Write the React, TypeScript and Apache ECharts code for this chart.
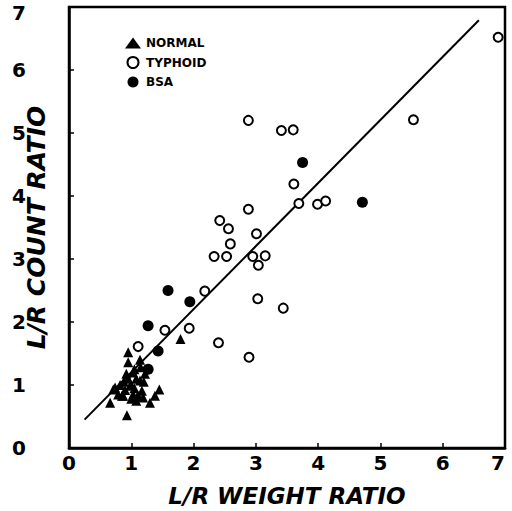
import React, { useEffect, useRef } from "react";
import * as echarts from "echarts";

const xTickLabels = ["0", "1", "2", "3", "4", "5", "6", "7"];
const yTickLabels = ["0", "1", "2", "3", "4", "5", "6", "7"];

const normal: number[][] = [
  [0.66, 0.72], [0.74, 0.96], [0.85, 0.83], [0.93, 0.52], [0.95, 1.52],
  [0.95, 1.36], [1.14, 1.4], [1.79, 1.73], [1.45, 0.93], [1.38, 0.83],
  [1.3, 0.72], [0.79, 0.85], [0.71, 0.93], [0.82, 1.0], [0.88, 1.05],
  [0.9, 0.92], [0.95, 1.1], [0.98, 0.99], [1.0, 1.0], [1.03, 1.2],
  [1.05, 0.95], [1.05, 1.25], [1.08, 1.1], [1.1, 0.82], [1.14, 1.07],
  [1.17, 0.91], [1.2, 1.05], [1.0, 0.78], [1.08, 0.75], [1.15, 1.28],
  [0.92, 1.18], [1.22, 1.18], [1.03, 0.85], [1.11, 0.83], [1.19, 0.8],
  [0.87, 0.83],
];

const typhoid: number[][] = [
  [2.88, 5.2], [3.41, 5.04], [3.6, 5.05], [3.61, 4.19], [3.69, 3.88],
  [3.99, 3.87], [4.12, 3.92], [2.88, 3.79], [2.42, 3.61], [2.56, 3.48],
  [3.01, 3.4], [2.59, 3.24], [2.33, 3.04], [2.53, 3.04], [2.95, 3.04],
  [3.15, 3.05], [3.04, 2.9], [2.18, 2.49], [3.03, 2.37], [3.44, 2.22],
  [2.4, 1.67], [2.89, 1.44], [1.54, 1.87], [1.93, 1.9], [1.11, 1.61],
  [5.53, 5.21], [6.89, 6.52],
];

const bsa: number[][] = [
  [3.75, 4.53], [4.71, 3.9], [1.59, 2.5], [1.94, 2.32], [1.27, 1.94],
  [1.43, 1.54], [1.27, 1.25],
];

const fitLine: number[][] = [
  [0.25, 0.45],
  [6.58, 6.79],
];

const FONT = "DejaVu Sans";

export default function App() {
  const ref = useRef<HTMLDivElement>(null);
  useEffect(() => {
    const chart = echarts.init(ref.current!, null, { renderer: "svg" });
    chart.setOption({
      animation: false,
      backgroundColor: "#ffffff",
      grid: {
        left: 69,
        right: 7,
        top: 7,
        bottom: 63,
        containLabel: false,
        outerBoundsMode: "none",
        show: true,
        borderColor: "#000",
        borderWidth: 2.5,
      },
      legend: {
        data: ["NORMAL", "TYPHOID", "BSA"],
        orient: "vertical",
        left: 120,
        top: 32,
        itemWidth: 16,
        itemHeight: 11,
        itemGap: 7,
        textStyle: { fontFamily: FONT, fontSize: 12, fontWeight: "bold", color: "#000" },
      },
      xAxis: {
        type: "value",
        min: 0,
        max: 7,
        interval: 1,
        splitLine: { show: false },
        axisLine: { lineStyle: { color: "#000", width: 2.5 } },
        axisTick: { inside: true, length: 5, lineStyle: { color: "#000", width: 1.5 } },
        axisLabel: {
          color: "#000",
          fontFamily: FONT,
          fontSize: 20,
          fontWeight: "bold",
          margin: 5,
          alignMaxLabel: "right",
          formatter: (v: number) => xTickLabels[Math.round(v)],
        },
        name: "L/R WEIGHT RATIO",
        nameLocation: "middle",
        nameGap: 36,
        nameMoveOverlap: false,
        nameTextStyle: {
          fontFamily: FONT,
          fontSize: 23,
          fontStyle: "italic",
          fontWeight: "bold",
          color: "#000",
        },
      },
      yAxis: {
        type: "value",
        min: 0,
        max: 7,
        interval: 1,
        splitLine: { show: false },
        axisLine: { lineStyle: { color: "#000", width: 2.5 } },
        axisTick: { inside: true, length: 5, lineStyle: { color: "#000", width: 1.5 } },
        axisLabel: {
          color: "#000",
          fontFamily: FONT,
          fontSize: 20,
          lineHeight: 12,
          fontWeight: "bold",
          margin: 43,
          verticalAlignMaxLabel: "top",
          formatter: (v: number) => yTickLabels[Math.round(v)],
        },
        name: "L/R COUNT RATIO",
        nameLocation: "middle",
        nameGap: 20,
        nameRotate: 90,
        nameMoveOverlap: false,
        nameTextStyle: {
          fontFamily: FONT,
          fontSize: 25,
          fontStyle: "italic",
          fontWeight: "bold",
          color: "#000",
        },
      },
      series: [
        {
          type: "line",
          data: fitLine,
          showSymbol: false,
          symbol: "none",
          silent: true,
          lineStyle: { color: "#000", width: 2 },
          z: 1,
        },
        {
          name: "TYPHOID",
          type: "scatter",
          data: typhoid,
          symbol: "circle",
          symbolSize: 9,
          itemStyle: { color: "#fff", borderColor: "#000", borderWidth: 2, opacity: 1 },
          z: 2,
        },
        {
          name: "NORMAL",
          type: "scatter",
          data: normal,
          symbol: "triangle",
          symbolSize: 10,
          itemStyle: { color: "#000", opacity: 1 },
          z: 3,
        },
        {
          name: "BSA",
          type: "scatter",
          data: bsa,
          symbol: "circle",
          symbolSize: 11,
          itemStyle: { color: "#000", opacity: 1 },
          z: 4,
        },
      ],
    });
    return () => chart.dispose();
  }, []);
  return (
    <div
      ref={ref}
      style={{ position: "fixed", left: 0, top: 0, width: 512, height: 511 }}
    />
  );
}
